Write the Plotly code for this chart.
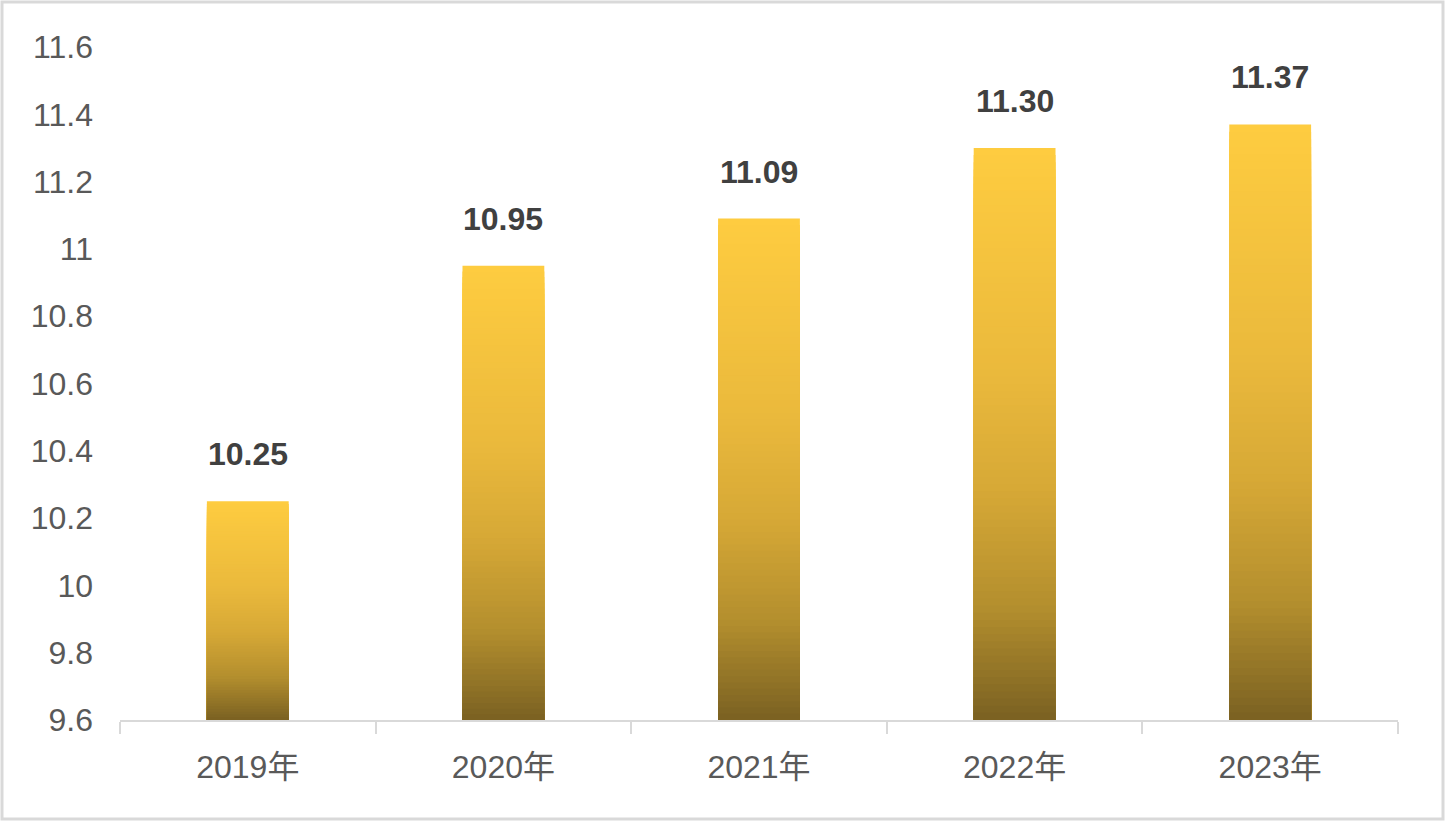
import numpy as np
import plotly.graph_objects as go

# Chart data
years = ['2019年', '2020年', '2021年', '2022年', '2023年']
values = [10.25, 10.95, 11.09, 11.30, 11.37]
base_value = 9.6

# Gradient stops, 0 = bar bottom, 1 = bar top
stop_pos = [0.0, 0.2, 0.4, 0.6, 1.0]
stop_rgb = [(122, 97, 34), (180, 143, 46), (214, 168, 54), (234, 185, 60), (254, 204, 64)]

n_seg = 80
W, H = 1446, 822
ml, mr, mt, mb = 120, 48, 47, 102


def grad_color(t):
    r = np.interp(t, stop_pos, [c[0] for c in stop_rgb])
    g = np.interp(t, stop_pos, [c[1] for c in stop_rgb])
    b = np.interp(t, stop_pos, [c[2] for c in stop_rgb])
    return f'rgb({r:.0f},{g:.0f},{b:.0f})'


# Fake a vertical gradient: nested slices all starting at the axis base,
# tallest (lightest) drawn first so shorter, darker ones sit on top without seams
xs, bases, heights, colors = [], [], [], []
for yr, v in zip(years, values):
    step = (v - base_value) / n_seg
    for k in range(n_seg - 1, -1, -1):
        xs.append(yr)
        bases.append(base_value)
        heights.append((k + 1) * step)
        colors.append(grad_color((k + 0.5) / n_seg))

fig = go.Figure()
fig.add_trace(go.Bar(
    x=xs, y=heights, base=bases,
    marker=dict(color=colors, line=dict(width=0)),
    hoverinfo='skip', showlegend=False,
))

# Value labels above bars
for yr, v in zip(years, values):
    fig.add_annotation(
        x=yr, y=v, text=f'<b>{v:.2f}</b>', showarrow=False,
        yanchor='bottom', yshift=27,
        font=dict(family='Liberation Sans, Arial, sans-serif', size=32, color='#404040'),
    )

fig.update_layout(
    width=W, height=H,
    margin=dict(l=ml, r=mr, t=mt, b=mb),
    paper_bgcolor='white', plot_bgcolor='white',
    bargap=0.68,
    font=dict(family='Liberation Sans, Noto Sans CJK SC, sans-serif', size=32, color='#595959'),
)
fig.update_xaxes(
    showline=True, linecolor='#D9D9D9', linewidth=2,
    ticks='outside', tickson='boundaries', ticklen=12, tickcolor='#D9D9D9', tickwidth=2,
    showgrid=False, tickfont=dict(size=32), ticklabelstandoff=18,
)
fig.update_yaxes(
    range=[9.6, 11.6], dtick=0.2, tickformat='~r',
    showgrid=False, zeroline=False, showline=False,
    ticks='', ticklabelstandoff=26,
)

# Outer border around the chart
pw = W - ml - mr
ph = H - mt - mb
fig.add_shape(
    type='rect', xref='paper', yref='paper',
    x0=(2 - ml) / pw, x1=(W - 3 - ml) / pw,
    y0=-(mb - 3) / ph, y1=1 + (mt - 2) / ph,
    line=dict(color='#D9D9D9', width=3), fillcolor='rgba(0,0,0,0)',
)

fig.write_html('out.html', config={'displayModeBar': False},
               post_script="document.body.style.margin='0';")
